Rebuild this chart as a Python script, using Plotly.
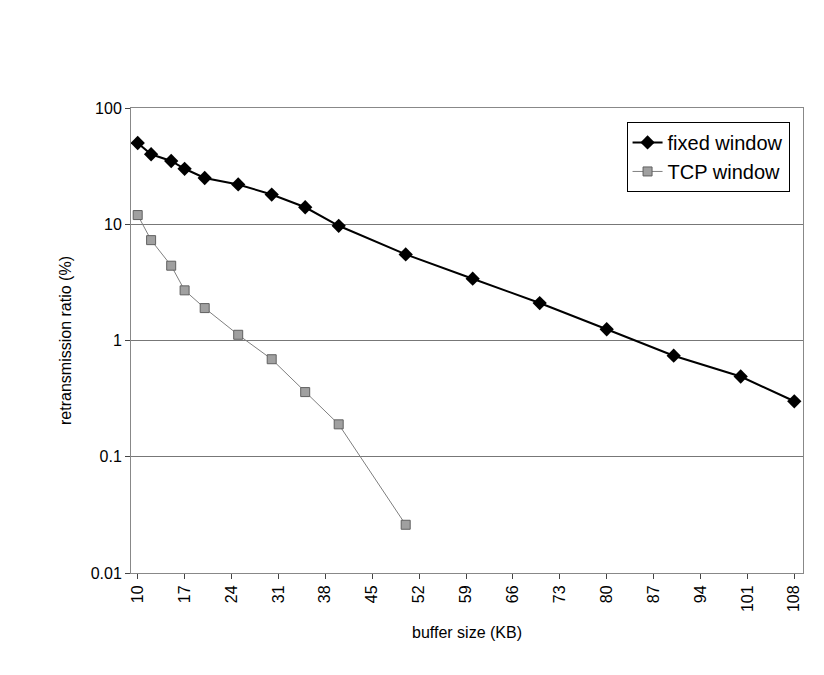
import plotly.graph_objects as go

fixed_x = [10, 12, 15, 17, 20, 25, 30, 35, 40, 50, 60, 70, 80, 90, 100, 108]
fixed_y = [50, 40, 35, 30, 25, 22, 18, 14, 9.7, 5.5, 3.4, 2.1, 1.25, 0.74, 0.49, 0.30]
tcp_x = [10, 12, 15, 17, 20, 25, 30, 35, 40, 50]
tcp_y = [12, 7.3, 4.4, 2.7, 1.9, 1.12, 0.69, 0.36, 0.19, 0.026]
x_ticks = [10, 17, 24, 31, 38, 45, 52, 59, 66, 73, 80, 87, 94, 101, 108]
y_ticks = [0.01, 0.1, 1, 10, 100]
y_labels = ["0.01", "0.1", "1", "10", "100"]

fig = go.Figure()
fig.add_trace(go.Scatter(x=fixed_x, y=fixed_y, mode="lines+markers", name="fixed window",
                         line=dict(color="black", width=2),
                         marker=dict(symbol="diamond", size=11, color="black")))
fig.add_trace(go.Scatter(x=tcp_x, y=tcp_y, mode="lines+markers", name="TCP window",
                         line=dict(color="#808080", width=1),
                         marker=dict(symbol="square", size=9, color="#a0a0a0",
                                     line=dict(color="#606060", width=1))))
fig.update_layout(
    width=824, height=675, paper_bgcolor="white", plot_bgcolor="white",
    margin=dict(l=123, r=29, t=100, b=110),
    font=dict(family="Liberation Sans, Arial", size=16, color="black"),
    legend=dict(x=0.98, y=0.97, xanchor="right", yanchor="top", bordercolor="black",
                borderwidth=1, font=dict(size=20), bgcolor="white"),
    xaxis=dict(range=[9, 109.3], tickvals=x_ticks, tickangle=-90, showgrid=False,
               ticks="outside", ticklen=5, showline=True, linecolor="#888", mirror=True,
               title=dict(text="buffer size (KB)", font=dict(size=16))),
    yaxis=dict(type="log", range=[-2, 2], tickvals=y_ticks, ticktext=y_labels,
               showgrid=True, gridcolor="#777", ticks="outside", ticklen=5,
               showline=True, linecolor="#888", mirror=True,
               title=dict(text="retransmission ratio (%)", font=dict(size=16))),
)
fig.write_html("out.html")
